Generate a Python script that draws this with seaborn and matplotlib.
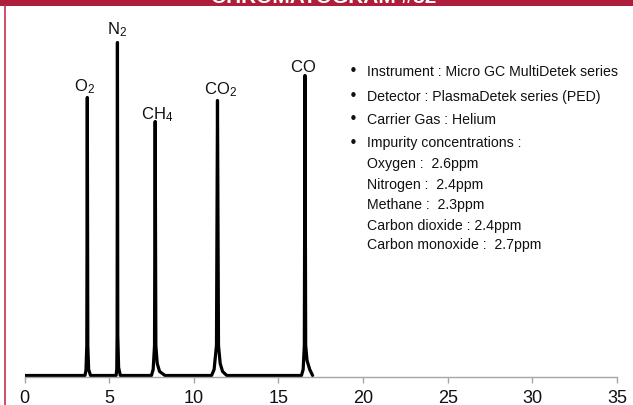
import matplotlib
matplotlib.use("Agg")
import matplotlib.pyplot as plt
from matplotlib.patches import Rectangle
from matplotlib.lines import Line2D
import seaborn as sns
import pandas as pd

# Detector trace (retention time in minutes, signal in arbitrary units)
time_min = [
    0.00,
    3.57, 3.63, 3.68, 3.71, 3.74, 3.79, 3.90,
    5.41, 5.45, 5.47, 5.49, 5.51, 5.56, 5.66,
    7.50, 7.60, 7.68, 7.72, 7.76, 7.84, 7.98, 8.30,
    11.05, 11.20, 11.34, 11.40, 11.46, 11.56, 11.70, 11.95,
    16.36, 16.46, 16.53, 16.57, 16.61, 16.69, 16.85, 17.02,
]
signal = [
    0,
    0, 5, 30, 278, 30, 6, 0,
    0, 6, 40, 333, 40, 8, 0,
    0, 6, 30, 254, 30, 12, 4, 0,
    0, 6, 30, 275, 30, 12, 4, 0,
    0, 6, 30, 300, 30, 15, 6, 0,
]

# Peak identification
peak_names = [r"$\mathregular{O_2}$", r"$\mathregular{N_2}$", r"$\mathregular{CH_4}$",
              r"$\mathregular{CO_2}$", r"$\mathregular{CO}$"]
peak_time = [3.71, 5.49, 7.72, 11.40, 16.57]
peak_height = [278, 333, 254, 275, 300]

x_ticks = [0, 5, 10, 15, 20, 25, 30, 35]

notes_bulleted = [
    "Instrument : Micro GC MultiDetek series",
    "Detector : PlasmaDetek series (PED)",
    "Carrier Gas : Helium",
    "Impurity concentrations :",
]
notes_plain = [
    "Oxygen :  2.6ppm",
    "Nitrogen :  2.4ppm",
    "Methane :  2.3ppm",
    "Carbon dioxide : 2.4ppm",
    "Carbon monoxide :  2.7ppm",
]

sns.set_style("white")
plt.rcParams["font.family"] = ["Liberation Sans", "DejaVu Sans"]
plt.rcParams["mathtext.default"] = "regular"

W, H = 633, 406
fig = plt.figure(figsize=(W / 100, H / 100), dpi=100)
fig.patch.set_facecolor("white")

# axes placement in pixels
ax_left, ax_right, ax_top, ax_bottom = 24.5, 617.0, 10.0, 378.0
ax = fig.add_axes([ax_left / W, 1 - ax_bottom / H,
                   (ax_right - ax_left) / W, (ax_bottom - ax_top) / H])

df = pd.DataFrame({"time": time_min, "signal": signal})
sns.lineplot(data=df, x="time", y="signal", sort=False, estimator=None,
             color="black", linewidth=2.3, ax=ax)

ax.set_xlim(0, 35)
ax.set_ylim(-1.5, 366.5)
ax.set_xticks(x_ticks)
ax.set_yticks([])
ax.set_xlabel("")
ax.set_ylabel("")
for side in ["top", "right", "left"]:
    ax.spines[side].set_visible(False)
ax.spines["bottom"].set_color("#A6A6A6")
ax.spines["bottom"].set_linewidth(1.0)
ax.tick_params(axis="x", direction="out", length=4, width=1.0, color="#A6A6A6",
               labelsize=13, labelcolor="#111111", pad=5, bottom=True)

# peak labels
label_dx = [-0.15, 0.0, 0.1, 0.2, -0.1]
label_gap = [7, 9, 3, 7, 5]
for name, t, h, dx, g in zip(peak_names, peak_time, peak_height, label_dx, label_gap):
    ax.text(t + dx, h + g, name, ha="center", va="baseline", fontsize=12, color="#111111")

# run conditions
ax_w, ax_h = ax_right - ax_left, ax_bottom - ax_top
bullet_x = (352.7 - ax_left) / ax_w
text_x = (367.3 - ax_left) / ax_w
rows_y = [71.7, 96.7, 120.0, 143.3, 164.3, 185.0, 205.0, 225.7, 245.0]
for i, line in enumerate(notes_bulleted + notes_plain):
    yf = (ax_bottom - rows_y[i]) / ax_h
    ax.text(text_x, yf, line, transform=ax.transAxes, ha="left", va="center",
            fontsize=10.2, color="#111111")
    if i < len(notes_bulleted):
        ax.text(bullet_x, yf, "\u2022", transform=ax.transAxes, ha="center", va="center",
                fontsize=11, family=["DejaVu Sans"], color="#111111")

# frame: top banner with title, thin left rule
red = "#AE1E3B"
fig.patches.append(Rectangle((0, 1 - 7 / H), 1, 7 / H, transform=fig.transFigure,
                             facecolor=red, edgecolor="none", zorder=0))
fig.lines.append(Line2D([5 / W, 5 / W], [0, 1 - 7 / H], transform=fig.transFigure,
                        color="#C4314E", linewidth=1.2))
fig.text(324 / W, 1 - 3 / H, "CHROMATOGRAM #32", ha="center", va="baseline",
         fontsize=15, fontweight="bold", color="white")

fig.savefig("out.png", dpi=100)
